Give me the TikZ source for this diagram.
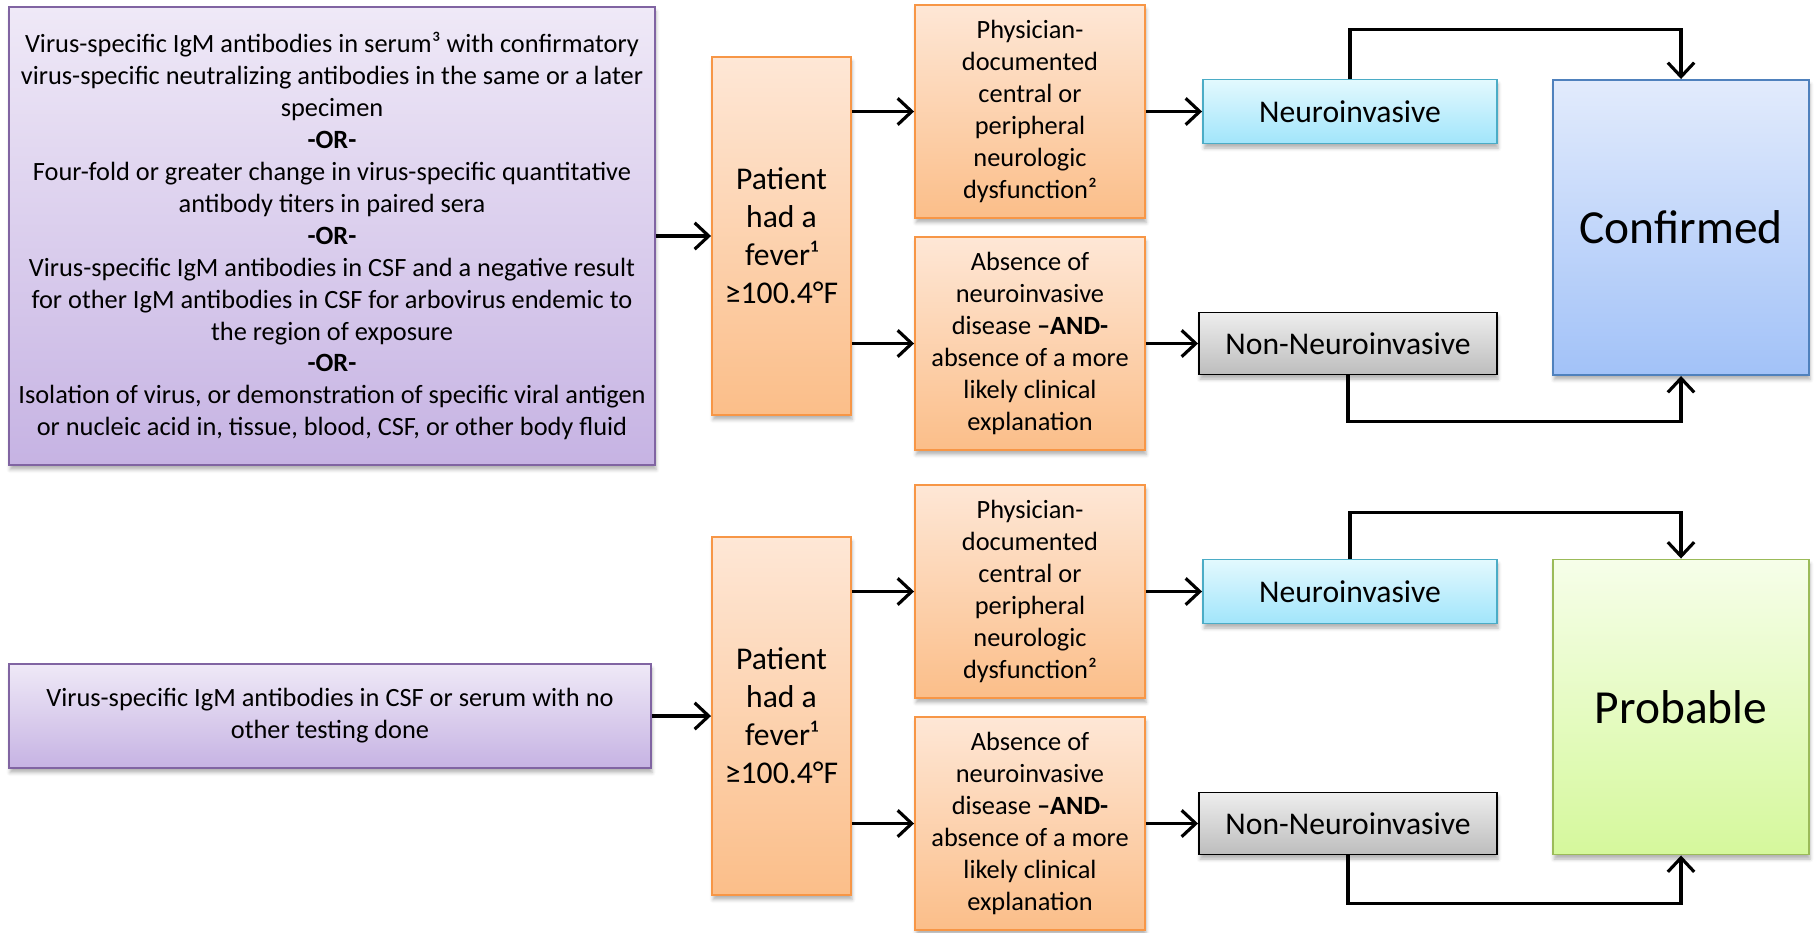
\documentclass[tikz,border=0pt]{standalone}
\usepackage{fontspec}
\setmainfont{Carlito}
\usetikzlibrary{arrows.meta,shadows.blur}

\definecolor{lavtop}{HTML}{EFE9F7}
\definecolor{lavbot}{HTML}{C6B3E3}
\definecolor{lavline}{HTML}{8064A2}
\definecolor{ortop}{HTML}{FEE7D6}
\definecolor{orbot}{HTML}{FBBE89}
\definecolor{orline}{HTML}{F79646}
\definecolor{cytop}{HTML}{E3F9FE}
\definecolor{cybot}{HTML}{A1E5FB}
\definecolor{cyline}{HTML}{4BACC6}
\definecolor{grtop}{HTML}{EEEEEE}
\definecolor{grbot}{HTML}{BDBDBD}
\definecolor{bltop}{HTML}{E2EBFC}
\definecolor{blbot}{HTML}{A2C2F8}
\definecolor{blline}{HTML}{4F81BD}
\definecolor{gntop}{HTML}{F6FEE9}
\definecolor{gnbot}{HTML}{D5F89C}
\definecolor{gnline}{HTML}{9BBB59}

\begin{document}
\begin{tikzpicture}
	\tikzstyle{every node}=[font=\fontsize{15}{18.2}\selectfont, align=center, inner sep=0pt]
	\tikzstyle{box}=[draw, line width=1.1pt, blur shadow={shadow xshift=0.6pt, shadow yshift=-2.6pt, shadow blur radius=2pt, shadow opacity=30}]
	\tikzstyle{labbox}=[box, draw=lavline, top color=lavtop, bottom color=lavbot]
	\tikzstyle{orbox}=[box, draw=orline, top color=ortop, bottom color=orbot, minimum width=4.6cm, minimum height=4.26cm]
	\tikzstyle{feverbox}=[box, draw=orline, top color=ortop, bottom color=orbot, minimum width=2.78cm, minimum height=7.16cm, font=\fontsize{18}{21.6}\selectfont]
	\tikzstyle{neubox}=[box, draw=cyline, top color=cytop, bottom color=cybot, minimum width=5.88cm, minimum height=1.28cm, font=\fontsize{18}{21.6}\selectfont]
	\tikzstyle{nonbox}=[box, draw=black, top color=grtop, bottom color=grbot, minimum width=5.96cm, minimum height=1.24cm, font=\fontsize{18}{21.6}\selectfont]
	\tikzstyle{casebox}=[box, minimum width=5.12cm, minimum height=5.9cm, font=\fontsize{27}{32}\selectfont]
	\tikzstyle{arr}=[line width=1.8pt, -{Straight Barb[length=8pt,width=15pt]}]

	\useasboundingbox (0,0) rectangle (36.34,-18.64);

	\begin{scope}[shift={(0,0)}]
	\node[labbox, minimum width=12.92cm, minimum height=9.16cm] (labA) at (6.64,-4.72) {Virus-specific IgM antibodies in serum³ with confirmatory\\virus-specific neutralizing antibodies in the same or a later\\specimen\\\textbf{-OR-}\\Four-fold or greater change in virus-specific quantitative\\antibody titers in paired sera\\\textbf{-OR-}\\Virus-specific IgM antibodies in CSF and a negative result\\for other IgM antibodies in CSF for arbovirus endemic to\\the region of exposure\\\textbf{-OR-}\\Isolation of virus, or demonstration of specific viral antigen\\or nucleic acid in, tissue, blood, CSF, or other body fluid};
	\node[feverbox] (fevA) at (15.63,-4.72) {Patient\\had a\\fever¹\\≥100.4°F};
	\node[orbox] (physA) at (20.6,-2.23) {Physician-\\documented\\central or\\peripheral\\neurologic\\dysfunction²};
	\node[orbox] (absA) at (20.6,-6.87) {Absence of\\neuroinvasive\\disease \textbf{–AND-}\\absence of a more\\likely clinical\\explanation};
	\node[neubox] (neuA) at (27.0,-2.23) {Neuroinvasive};
	\node[nonbox] (nonA) at (26.96,-6.87) {Non-Neuroinvasive};
	\node[casebox, draw=blline, top color=bltop, bottom color=blbot] (confA) at (33.62,-4.55) {Confirmed};

	\draw[arr] (labA) -- (fevA);
	\draw[arr] (fevA.east |- physA) -- (physA);
	\draw[arr] (fevA.east |- absA) -- (absA);
	\draw[arr] (physA) -- (neuA);
	\draw[arr] (absA) -- (nonA);
	\draw[arr] (neuA.north) -- ++(0,0.98) -| (confA.north);
	\draw[arr] (nonA.south) -- ++(0,-0.92) -| (confA.south);
	\end{scope}

	\begin{scope}[shift={(0,-9.6)}]
	\node[labbox, minimum width=12.84cm, minimum height=2.08cm] (labB) at (6.6,-4.72) {Virus-specific IgM antibodies in CSF or serum with no\\other testing done};
	\node[feverbox] (fevB) at (15.63,-4.72) {Patient\\had a\\fever¹\\≥100.4°F};
	\node[orbox] (physB) at (20.6,-2.23) {Physician-\\documented\\central or\\peripheral\\neurologic\\dysfunction²};
	\node[orbox] (absB) at (20.6,-6.87) {Absence of\\neuroinvasive\\disease \textbf{–AND-}\\absence of a more\\likely clinical\\explanation};
	\node[neubox] (neuB) at (27.0,-2.23) {Neuroinvasive};
	\node[nonbox] (nonB) at (26.96,-6.87) {Non-Neuroinvasive};
	\node[casebox, draw=gnline, top color=gntop, bottom color=gnbot] (probB) at (33.62,-4.54) {Probable};

	\draw[arr] (labB) -- (fevB);
	\draw[arr] (fevB.east |- physB) -- (physB);
	\draw[arr] (fevB.east |- absB) -- (absB);
	\draw[arr] (physB) -- (neuB);
	\draw[arr] (absB) -- (nonB);
	\draw[arr] (neuB.north) -- ++(0,0.92) -| (probB.north);
	\draw[arr] (nonB.south) -- ++(0,-0.96) -| (probB.south);
	\end{scope}
\end{tikzpicture}
\end{document}
